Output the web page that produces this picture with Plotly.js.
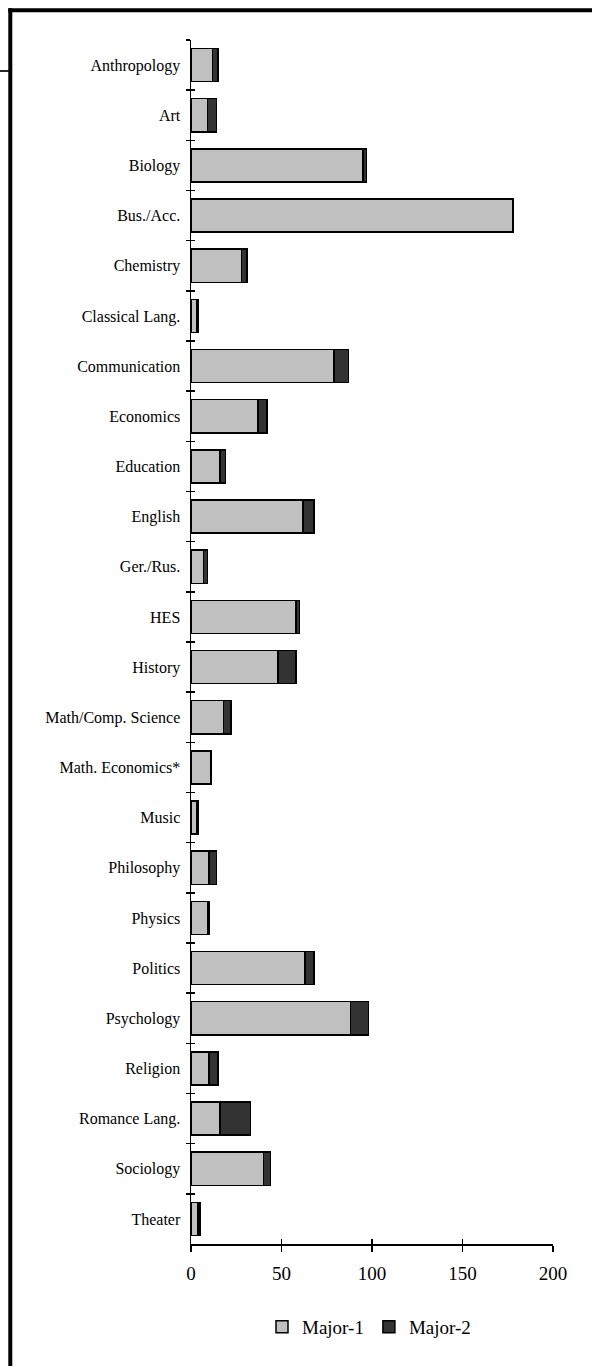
<!DOCTYPE html>
<html>
<head>
<meta charset="utf-8">
<script src="https://cdn.plot.ly/plotly-3.0.1.min.js"></script>
<style>
  html, body { margin: 0; padding: 0; background: #ffffff; }
  #chart { width: 592px; height: 1366px; }
</style>
</head>
<body>
<div id="chart"></div>
<script>
const categories = [
  "Anthropology", "Art", "Biology", "Bus./Acc.", "Chemistry", "Classical Lang.",
  "Communication", "Economics", "Education", "English", "Ger./Rus.", "HES",
  "History", "Math/Comp. Science", "Math. Economics*", "Music", "Philosophy",
  "Physics", "Politics", "Psychology", "Religion", "Romance Lang.", "Sociology", "Theater"
];
const major1 = [12, 9, 95, 178, 28, 3, 79, 37, 16, 62, 7, 58, 48, 18, 11, 3, 10, 9, 63, 88, 10, 16, 40, 4];
const major2 = [3, 5, 2, 0, 3, 1, 8, 5, 3, 6, 2, 2, 10, 4, 0, 1, 4, 1, 5, 10, 5, 17, 4, 1];
const seriesNames = ["Major-1", "Major-2"];
const xTicks = [0, 50, 100, 150, 200];

const W = 592, H = 1366;
const M = { l: 191, r: 39, t: 40, b: 122 };
const PW = W - M.l - M.r, PH = H - M.t - M.b;
const px = x => (x - M.l) / PW;
const py = y => (H - M.b - y) / PH;

const FONT = "Liberation Serif";
const lineStyle = { color: "#000000", width: 1.5 };

const traces = [
  {
    type: "bar", orientation: "h", name: seriesNames[0],
    y: categories, x: major1,
    marker: { color: "#C0C0C0", line: lineStyle },
    hoverinfo: "skip"
  },
  {
    type: "bar", orientation: "h", name: seriesNames[1],
    y: categories, x: major2,
    marker: { color: "#333333", line: lineStyle },
    hoverinfo: "skip"
  },
  {
    type: "scatter", mode: "markers", x: [null], y: [null],
    xaxis: "x2", yaxis: "y2", showlegend: false, hoverinfo: "skip"
  }
];

const layout = {
  width: W, height: H,
  margin: M,
  paper_bgcolor: "#ffffff", plot_bgcolor: "#ffffff",
  barmode: "stack", bargap: 0.34,
  font: { family: FONT, color: "#000000", size: 16 },
  showlegend: true,
  legend: {
    orientation: "h", x: px(369), xanchor: "center", y: py(1327), yanchor: "middle",
    font: { family: FONT, size: 19, color: "#000000" },
    bgcolor: "rgba(0,0,0,0)", itemwidth: 30, traceorder: "normal"
  },
  xaxis: {
    range: [0, 200], tickvals: xTicks, ticktext: xTicks.map(String),
    showgrid: false, zeroline: false, showline: true, linecolor: "#000000", linewidth: 1.5,
    ticks: "outside", ticklen: 6, tickwidth: 1.5, tickcolor: "#000000",
    tickfont: { family: FONT, size: 19, color: "#000000" }, ticklabelstandoff: 6,
    fixedrange: true
  },
  yaxis: {
    type: "category", categoryorder: "array", categoryarray: categories,
    autorange: "reversed",
    showgrid: false, zeroline: false, showline: true, linecolor: "#000000", linewidth: 1.5,
    ticks: "outside", tickson: "boundaries", ticklen: 4, tickwidth: 1.5, tickcolor: "#000000",
    tickfont: { family: FONT, size: 16, color: "#000000" }, ticklabelstandoff: 6,
    fixedrange: true
  },
  xaxis2: {
    overlaying: "x", anchor: "y2", range: [0, 200], tickvals: xTicks,
    showticklabels: false, showgrid: false, zeroline: false, showline: false,
    ticks: "inside", ticklen: 5, tickwidth: 1.5, tickcolor: "#000000", fixedrange: true
  },
  yaxis2: {
    overlaying: "y", anchor: "x2", range: [categories.length - 0.5, -0.5],
    tickmode: "linear", tick0: -0.5, dtick: 1,
    showticklabels: false, showgrid: false, zeroline: false, showline: false,
    ticks: "inside", ticklen: 4, tickwidth: 1.5, tickcolor: "#000000", fixedrange: true
  },
  shapes: [
    { type: "line", xref: "paper", yref: "paper", x0: px(8.3), x1: px(W + 10), y0: py(10.3), y1: py(10.3), line: { color: "#000000", width: 4 } },
    { type: "line", xref: "paper", yref: "paper", x0: px(10.3), x1: px(10.3), y0: py(8.3), y1: py(H + 10), line: { color: "#000000", width: 4 } },
    { type: "line", xref: "paper", yref: "paper", x0: px(-5), x1: px(10), y0: py(71), y1: py(71), line: { color: "#000000", width: 1.7 } }
  ]
};

Plotly.newPlot("chart", traces, layout, { staticPlot: true, displayModeBar: false, responsive: false });
</script>
</body>
</html>
